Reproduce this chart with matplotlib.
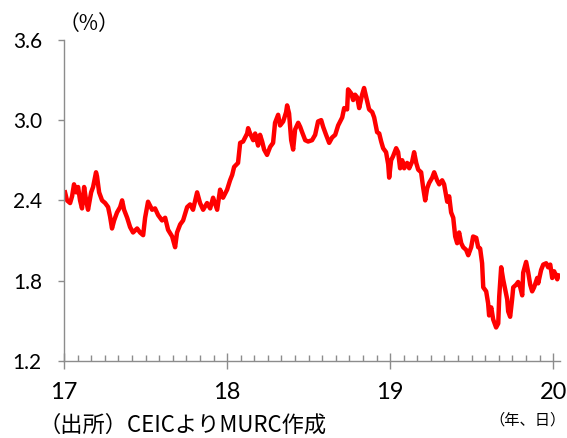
import matplotlib
matplotlib.use("Agg")
import matplotlib.pyplot as plt
from matplotlib.ticker import MultipleLocator

plt.rcParams['font.family'] = ['Lato', 'Noto Sans CJK JP', 'DejaVu Sans']

# time in years since start of 2017
t_offset = [
    0.006, 0.018, 0.037, 0.049, 0.061, 0.074, 0.086, 0.098, 0.110, 0.123,
    0.135, 0.147, 0.166, 0.178, 0.196, 0.202, 0.215, 0.233, 0.252, 0.270,
    0.282, 0.294, 0.307, 0.325, 0.344, 0.356, 0.368, 0.387, 0.405, 0.423,
    0.448, 0.466, 0.485, 0.497, 0.509, 0.515, 0.540, 0.558, 0.577, 0.601,
    0.620, 0.638, 0.663, 0.681, 0.693, 0.712, 0.730, 0.755, 0.773, 0.791,
    0.816, 0.834, 0.853, 0.877, 0.896, 0.914, 0.939, 0.957, 0.975, 1.000,
    1.018, 1.031, 1.043, 1.067, 1.080, 1.098, 1.123, 1.129, 1.141, 1.160,
    1.172, 1.190, 1.202, 1.215, 1.227, 1.245, 1.264, 1.282, 1.294, 1.313,
    1.325, 1.344, 1.362, 1.368, 1.380, 1.393, 1.405, 1.417, 1.436, 1.448,
    1.460, 1.479, 1.497, 1.521, 1.540, 1.558, 1.577, 1.589, 1.607, 1.626,
    1.644, 1.663, 1.681, 1.706, 1.718, 1.736, 1.742, 1.761, 1.773, 1.785,
    1.798, 1.810, 1.828, 1.840, 1.859, 1.871, 1.890, 1.902, 1.920, 1.933,
    1.945, 1.957, 1.975, 1.988, 1.994, 2.006, 2.018, 2.037, 2.049, 2.061,
    2.074, 2.086, 2.104, 2.117, 2.135, 2.147, 2.160, 2.172, 2.190, 2.202,
    2.215, 2.227, 2.239, 2.258, 2.270, 2.288, 2.301, 2.319, 2.331, 2.350,
    2.362, 2.374, 2.387, 2.399, 2.411, 2.423, 2.436, 2.448, 2.466, 2.479,
    2.497, 2.509, 2.528, 2.540, 2.552, 2.564, 2.571, 2.589, 2.601, 2.607,
    2.620, 2.632, 2.650, 2.663, 2.669, 2.681, 2.693, 2.706, 2.718, 2.724,
    2.736, 2.748, 2.755, 2.773, 2.785, 2.798, 2.810, 2.816, 2.834, 2.847,
    2.859, 2.871, 2.883, 2.902, 2.908, 2.926, 2.939, 2.957, 2.969, 2.982,
    2.994, 3.006, 3.025, 3.031,
]

yield_pct = [
    2.46, 2.40, 2.38, 2.43, 2.52, 2.46, 2.50, 2.40, 2.34, 2.50,
    2.40, 2.33, 2.46, 2.50, 2.61, 2.58, 2.46, 2.40, 2.38, 2.35,
    2.28, 2.19, 2.25, 2.31, 2.35, 2.40, 2.33, 2.27, 2.20, 2.16,
    2.19, 2.16, 2.14, 2.27, 2.35, 2.39, 2.33, 2.34, 2.29, 2.25,
    2.27, 2.18, 2.13, 2.05, 2.16, 2.22, 2.25, 2.35, 2.37, 2.33,
    2.46, 2.38, 2.33, 2.38, 2.34, 2.42, 2.33, 2.48, 2.42, 2.48,
    2.55, 2.59, 2.65, 2.68, 2.83, 2.84, 2.90, 2.94, 2.90, 2.85,
    2.90, 2.81, 2.89, 2.84, 2.78, 2.74, 2.80, 2.83, 2.98, 3.04,
    2.96, 2.99, 3.06, 3.11, 3.05, 2.85, 2.78, 2.93, 2.98, 2.95,
    2.91, 2.85, 2.84, 2.85, 2.89, 2.99, 3.00, 2.95, 2.89, 2.83,
    2.87, 2.89, 2.96, 3.02, 3.09, 3.08, 3.23, 3.20, 3.15, 3.19,
    3.17, 3.09, 3.19, 3.24, 3.14, 3.08, 3.06, 3.02, 2.91, 2.90,
    2.84, 2.79, 2.76, 2.67, 2.57, 2.70, 2.73, 2.79, 2.76, 2.64,
    2.70, 2.64, 2.68, 2.64, 2.69, 2.76, 2.68, 2.63, 2.61, 2.50,
    2.40, 2.49, 2.53, 2.57, 2.61, 2.55, 2.52, 2.55, 2.52, 2.39,
    2.43, 2.31, 2.27, 2.13, 2.08, 2.16, 2.08, 2.05, 2.03, 1.99,
    2.05, 2.13, 2.12, 2.05, 2.04, 1.93, 1.75, 1.72, 1.63, 1.54,
    1.60, 1.51, 1.45, 1.48, 1.68, 1.90, 1.81, 1.73, 1.66, 1.57,
    1.53, 1.66, 1.75, 1.77, 1.79, 1.75, 1.69, 1.86, 1.94, 1.86,
    1.77, 1.72, 1.75, 1.82, 1.78, 1.88, 1.92, 1.93, 1.90, 1.92,
    1.82, 1.87, 1.81, 1.84,
]

start_year = 2017
year_ticks = [2017, 2018, 2019, 2020]
year_labels = ["17", "18", "19", "20"]
y_ticks = [1.2, 1.8, 2.4, 3.0, 3.6]
y_labels = ["1.2", "1.8", "2.4", "3.0", "3.6"]

x = [start_year + v for v in t_offset]

fig = plt.figure(figsize=(5.67, 4.38), dpi=100)
ax = fig.add_axes([0.113, 0.176, 0.875, 0.733])

ax.plot(x, yield_pct, color="#FF0000", lw=3.2, solid_joinstyle="round")

ax.set_xlim(2017, 2020.043)
ax.set_ylim(1.2, 3.6)

for s in ["top", "right"]:
    ax.spines[s].set_visible(False)
for s in ["left", "bottom"]:
    ax.spines[s].set_color("#8c8c8c")
    ax.spines[s].set_linewidth(1.0)

ax.set_yticks(y_ticks)
ax.set_yticklabels(y_labels)
ax.set_xticks(year_ticks)
ax.set_xticklabels(year_labels)
ax.xaxis.set_minor_locator(MultipleLocator(1/12))

ax.tick_params(axis="y", direction="out", length=4, width=1, color="#8c8c8c",
               labelsize=15, pad=12)
ax.tick_params(axis="x", which="major", direction="inout", length=12, width=1,
               color="#8c8c8c", labelsize=17, pad=9)
ax.tick_params(axis="x", which="minor", direction="in", length=4, width=1,
               color="#8c8c8c")

jp = ['Noto Sans CJK JP', 'DejaVu Sans']
fig.text(0.103, 0.945, "（%）", fontsize=15, ha="left", va="center", family=jp)
fig.text(0.068, 0.03, "（出所）CEICよりMURC作成", fontsize=16, ha="left", va="center",
         family=jp)
fig.text(0.997, 0.042, "（年、日）", fontsize=11, ha="right", va="center", family=jp)

fig.savefig("out.png", dpi=100)
